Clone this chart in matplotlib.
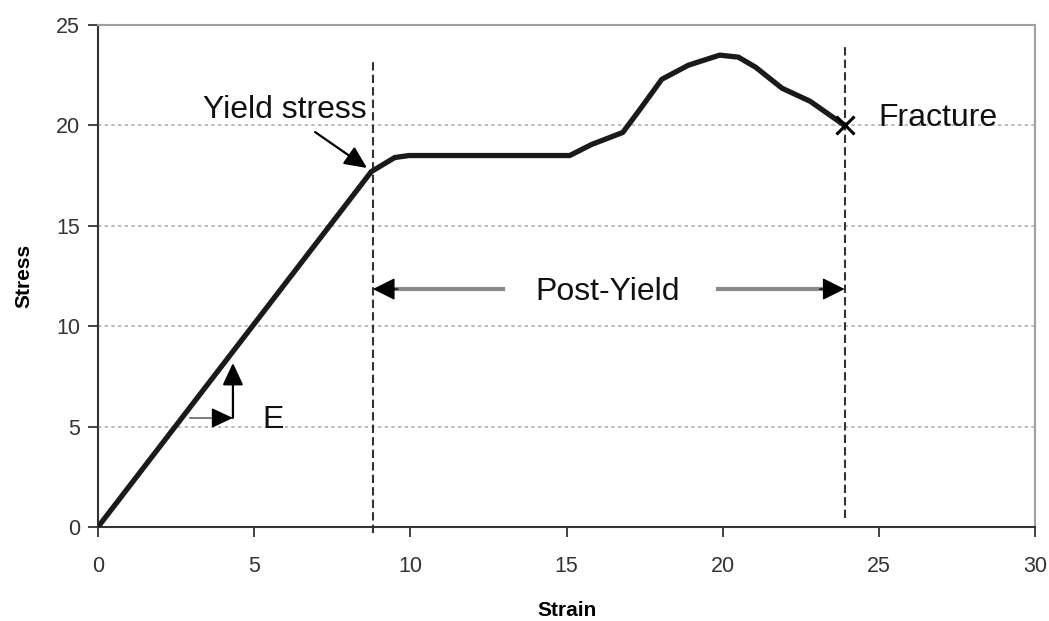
import matplotlib.pyplot as plt

plt.rcParams['font.family'] = ['Liberation Sans', 'DejaVu Sans']

# stress-strain curve
strain = [0, 8.75, 9.5, 9.95, 15.1, 15.8, 16.8, 17.35, 18.05, 18.9, 19.9, 20.5, 21.05, 21.9, 22.8, 23.9]
stress = [0, 17.7, 18.4, 18.5, 18.5, 19.05, 19.65, 20.8, 22.3, 23.0, 23.5, 23.4, 22.9, 21.85, 21.2, 20.0]

yield_strain = 8.8
fracture_strain = 23.9
fracture_stress = 20.0

x_ticks = [0, 5, 10, 15, 20, 25, 30]
y_ticks = [0, 5, 10, 15, 20, 25]

fig = plt.figure(figsize=(10.49, 6.21), dpi=100)
ax = fig.add_axes([0.0934, 0.1514, 0.8934, 0.8083])

ax.set_xlim(0, 30)
ax.set_ylim(0, 25)
ax.set_xticks(x_ticks)
ax.set_yticks(y_ticks)

# dotted grid only inside (not at 0 / 25)
for g in y_ticks[1:-1]:
    ax.axhline(g, color='#b0b0b0', lw=1.2, ls=(0, (2, 2)), zorder=1)

# dashed boundaries
ax.plot([yield_strain, yield_strain], [-0.3, 23.25], color='#333333', lw=1.5,
        ls=(0, (4, 2)), clip_on=False, zorder=2)
ax.plot([fracture_strain, fracture_strain], [0.45, 24.0], color='#333333', lw=1.5,
        ls=(0, (4, 2)), zorder=2)

# curve
ax.plot(strain, stress, color='#1a1a1a', lw=3.8, solid_joinstyle='round',
        solid_capstyle='round', zorder=4)
ax.plot([fracture_strain], [fracture_stress], marker='x', color='black',
        markersize=13, mew=2.2, zorder=5)

# Post-Yield arrows: grey shafts, black heads
py = 11.85
ax.plot([12.97, 9.4], [py, py], color='#8a8a8a', lw=3, zorder=3)
ax.plot([19.85, 23.3], [py, py], color='#8a8a8a', lw=3, zorder=3)
head = dict(arrowstyle='-|>,head_length=0.7,head_width=0.35', color='black',
            lw=1, mutation_scale=20, shrinkA=0, shrinkB=0)
ax.annotate('', xy=(yield_strain, py), xytext=(9.6, py), arrowprops=head, zorder=4)
ax.annotate('', xy=(fracture_strain, py), xytext=(23.1, py), arrowprops=head, zorder=4)

# yield stress pointer
ax.annotate('', xy=(8.61, 17.88), xytext=(6.95, 19.67),
            arrowprops=dict(arrowstyle='-|>,head_length=0.75,head_width=0.35',
                            color='black', lw=1.6, mutation_scale=18,
                            shrinkA=0, shrinkB=0), zorder=5)

# E slope triangle
ax.plot([2.95, 3.9], [5.43, 5.43], color='#666666', lw=1.2, zorder=4)
ax.annotate('', xy=(4.32, 5.43), xytext=(3.85, 5.43),
            arrowprops=dict(arrowstyle='-|>,head_length=0.75,head_width=0.35',
                            color='black', lw=1, mutation_scale=18,
                            shrinkA=0, shrinkB=0), zorder=5)
ax.annotate('', xy=(4.32, 8.17), xytext=(4.32, 5.43),
            arrowprops=dict(arrowstyle='-|>,head_length=0.75,head_width=0.35',
                            color='black', lw=1.6, mutation_scale=18,
                            shrinkA=0, shrinkB=0), zorder=5)

ax.text(3.36, 20.37, 'Yield stress', fontsize=23, va='baseline', ha='left', color='#111111')
ax.text(24.98, 19.97, 'Fracture', fontsize=23, va='baseline', ha='left', color='#111111')
ax.text(16.33, 11.3, 'Post-Yield', fontsize=23, va='baseline', ha='center', color='#111111')
ax.text(5.25, 4.93, 'E', fontsize=23, va='baseline', ha='left', color='#111111')

for side in ['left', 'bottom']:
    ax.spines[side].set_color('#333333')
    ax.spines[side].set_linewidth(1.5)
for side in ['top', 'right']:
    ax.spines[side].set_color('#a0a0a0')
    ax.spines[side].set_linewidth(1.5)

ax.tick_params(direction='out', length=7, width=1.3, color='#333333',
               labelsize=15.5, labelcolor='#333333')
ax.tick_params(axis='x', pad=14)
ax.tick_params(axis='y', pad=6)

ax.set_xlabel('Strain', fontsize=15, fontweight='bold', labelpad=17)
ax.set_ylabel('Stress', fontsize=15, fontweight='bold', labelpad=16)

plt.savefig('out.png', dpi=100)
